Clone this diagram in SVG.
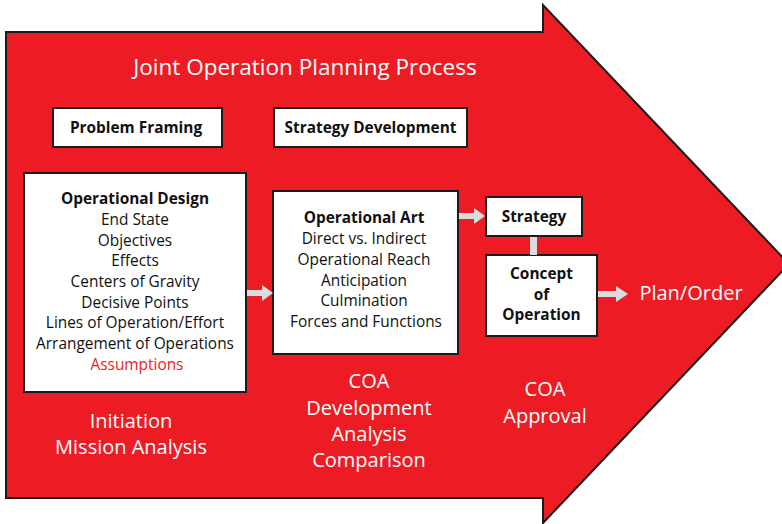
<svg xmlns="http://www.w3.org/2000/svg" width="782" height="524" viewBox="0 0 782 524">
<style>
.box{fill:#fff;stroke:#1a1a1a;stroke-width:2}
.t{font-family:"Open Sans","Liberation Sans",sans-serif;text-anchor:middle}
.w{fill:#fff;font-size:20px}
.k{fill:#111;font-size:15.4px}
.b{font-weight:bold}
.lbl{fill:#111;font-size:15.4px;font-weight:bold}
.conn{fill:#dcdcdc}
</style>
<rect width="782" height="524" fill="#fff"/>
<g id="big-arrow">
<path d="M6 32 H543 V5 L789 264 L543 523 V498 H6 Z" fill="#ED1C24" stroke="#1a1a1a" stroke-width="2"/>
</g>
<g id="title"><text class="t w" x="305" y="75" style="font-size:22.5px">Joint Operation Planning Process</text></g>
<g id="problem-framing"><rect class="box" x="53" y="108" width="169" height="39"/><text class="t lbl" x="136" y="133">Problem Framing</text></g>
<g id="strategy-development"><rect class="box" x="274" y="108" width="193" height="39"/><text class="t lbl" x="370.5" y="133">Strategy Development</text></g>
<g id="operational-design">
<rect class="box" x="24" y="173" width="222" height="219"/>
<text class="t k">
<tspan x="137" y="204" class="b">Operational Design</tspan>
<tspan x="137" y="225">End State</tspan>
<tspan x="137" y="245.5">Objectives</tspan>
<tspan x="137" y="266">Effects</tspan>
<tspan x="137" y="287">Centers of Gravity</tspan>
<tspan x="137" y="307.5">Decisive Points</tspan>
<tspan x="137" y="328">Lines of Operation/Effort</tspan>
<tspan x="137" y="349">Arrangement of Operations</tspan>
<tspan x="137" y="370" fill="#ED1C24">Assumptions</tspan>
</text>
</g>
<g id="operational-art">
<rect class="box" x="273" y="191" width="185" height="163"/>
<text class="t k">
<tspan x="366" y="223" class="b">Operational Art</tspan>
<tspan x="366" y="244">Direct vs. Indirect</tspan>
<tspan x="366" y="265">Operational Reach</tspan>
<tspan x="366" y="285.5">Anticipation</tspan>
<tspan x="366" y="306">Culmination</tspan>
<tspan x="366" y="327">Forces and Functions</tspan>
</text>
</g>
<g id="strategy"><rect class="box" x="486" y="197" width="96" height="39"/><text class="t lbl" x="534" y="221.5">Strategy</text></g>
<g id="concept-of-operation">
<rect class="box" x="486" y="255" width="111" height="81"/>
<text class="t lbl"><tspan x="541.5" y="279">Concept</tspan><tspan x="541.5" y="299.5">of</tspan><tspan x="541.5" y="320">Operation</tspan></text>
</g>
<g id="connectors">
<path class="conn" d="M247 290 H262 V285 L273 293 L262 301 V296 H247 Z"/>
<path class="conn" d="M459 213 H474 V208 L485 216 L474 224 V219 H459 Z"/>
<rect class="conn" x="530" y="237" width="7" height="18"/>
<path class="conn" d="M598 291 H616 V286 L628 294 L616 302 V297 H598 Z"/>
</g>
<g id="phase-labels">
<text class="t w"><tspan x="131" y="428">Initiation</tspan><tspan x="131" y="454">Mission Analysis</tspan></text>
<text class="t w"><tspan x="369" y="388">COA</tspan><tspan x="369" y="415">Development</tspan><tspan x="369" y="441">Analysis</tspan><tspan x="369" y="467">Comparison</tspan></text>
<text class="t w"><tspan x="545" y="396">COA</tspan><tspan x="545" y="423">Approval</tspan></text>
<text class="t w" x="691" y="300">Plan/Order</text>
</g>
</svg>
